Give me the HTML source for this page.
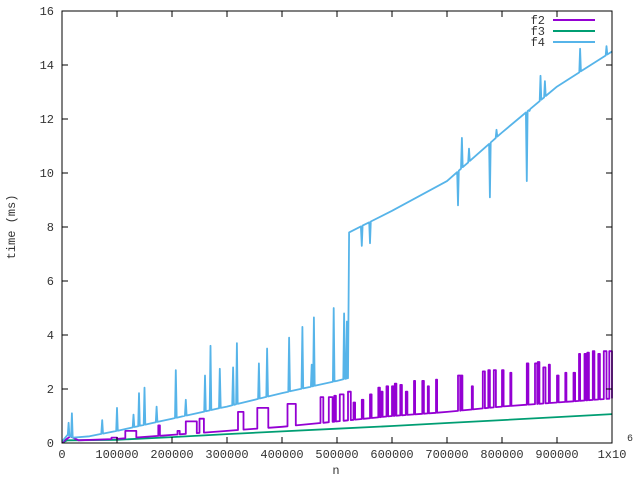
<!DOCTYPE html>
<html><head><meta charset="utf-8"><style>
body{margin:0;background:#fff}
svg text{font-family:"Liberation Mono",monospace;font-size:12px;fill:#333}
</style></head><body>
<svg id="chart" width="640" height="480" xmlns="http://www.w3.org/2000/svg">
<g id="grid"></g><g id="series"></g>
<rect x="62" y="11" width="550" height="432" fill="none" stroke="#000" stroke-width="1"/>
<g id="axes"></g>
<text transform="translate(15,227) rotate(-90)" text-anchor="middle">time (ms)</text>
<text x="336" y="474" text-anchor="middle">n</text>
<g>
<text x="545" y="24" text-anchor="end">f2</text>
<line x1="553" y1="20" x2="595" y2="20" stroke="#9400d3" stroke-width="2"/>
<text x="545" y="35" text-anchor="end">f3</text>
<line x1="553" y1="31" x2="595" y2="31" stroke="#009e73" stroke-width="2"/>
<text x="545" y="46" text-anchor="end">f4</text>
<line x1="553" y1="42" x2="595" y2="42" stroke="#56b4e9" stroke-width="2"/>
</g>
</svg>
<script>
const xTicks=[0,100000,200000,300000,400000,500000,600000,700000,800000,900000];
const yTicks=[0,2,4,6,8,10,12,14,16];
const f3BaseN=[0,10000,100000,200000,300000,400000,500000,600000,700000,800000,900000,1000000];
const f3BaseV=[0.02,0.1,0.12,0.22,0.33,0.43,0.53,0.63,0.74,0.85,0.96,1.07];
const f2BaseN=[0,15000,30000,100000,200000,300000,400000,500000,600000,700000,800000,900000,1000000];
const f2BaseV=[0.02,0.25,0.1,0.15,0.3,0.45,0.6,0.8,1.0,1.15,1.35,1.5,1.65];
const f2PlatStart=[90000,115000,175000,210000,225000,250000,320000,355000,410000,470000,485000,495000,505000,520000,530000,545000,560000,575000,580000,590000,600000,605000,615000,625000,640000,655000,665000,680000,720000,725000,745000,765000,775000,785000,800000,815000,845000,860000,865000,875000,885000,900000,915000,930000,940000,950000,955000,965000,975000,985000,995000];
const f2PlatEnd=[100000,135000,178000,214000,245000,258000,330000,375000,425000,475000,492000,498000,512000,525000,533000,548000,563000,578000,583000,593000,603000,608000,618000,628000,642000,658000,667000,682000,724000,728000,747000,769000,778000,789000,803000,817000,848000,864000,868000,879000,887000,903000,917000,933000,942000,953000,958000,968000,978000,990000,1000000];
const f2PlatV=[0.2,0.45,0.65,0.45,0.8,0.9,1.15,1.3,1.45,1.7,1.7,1.75,1.8,1.9,1.5,1.6,1.8,2.05,1.9,2.1,2.1,2.2,2.15,1.9,2.3,2.3,2.1,2.35,2.5,2.5,2.1,2.65,2.7,2.7,2.7,2.6,2.95,2.95,3.0,2.8,2.9,2.5,2.6,2.6,3.3,3.3,3.35,3.4,3.3,3.4,3.4];
const f4BaseN=[0,10000,20000,50000,100000,200000,300000,400000,500000,520000,522000,600000,700000,800000,900000,1000000];
const f4BaseV=[0.05,0.3,0.2,0.25,0.45,0.9,1.35,1.85,2.3,2.4,7.8,8.6,9.7,11.5,13.2,14.5];
const f4SpikeN=[12000,18000,73000,100000,130000,140000,150000,172000,207000,225000,260000,270000,287000,311000,318000,358000,373000,413000,437000,454000,458000,494000,513000,518000,545000,560000,720000,727000,740000,778000,790000,845000,850000,870000,878000,942000,990000];
const f4SpikeV=[0.75,1.1,0.85,1.3,1.05,1.85,2.05,1.35,2.7,1.6,2.5,3.6,2.75,2.8,3.7,2.95,3.5,3.9,4.3,2.9,4.65,5.0,4.8,4.5,7.3,7.4,8.8,11.3,10.9,9.1,11.6,9.7,12.3,13.6,13.4,14.6,14.7];

const L=62,R=612,T=11,B=443;
const sx=n=>L+(R-L)*n/1000000;
const sy=v=>B-(B-T)*v/16;
const NS='http://www.w3.org/2000/svg';
function interp(ns,vs,n){for(let i=1;i<ns.length;i++){if(n<=ns[i]){const t=(n-ns[i-1])/(ns[i]-ns[i-1]);return vs[i-1]+t*(vs[i]-vs[i-1]);}}return vs[vs.length-1];}
function path(pts,color,name){const p=document.createElementNS(NS,'path');


p.setAttribute('d','M'+pts.map(q=>sx(q[0]).toFixed(1)+','+sy(q[1]).toFixed(1)).join('L'));
p.setAttribute('fill','none');p.setAttribute('stroke',color);p.setAttribute('stroke-width','1.8');p.setAttribute('stroke-linejoin','round');
document.getElementById('series').appendChild(p);}
path(f3BaseN.map((n,i)=>[n,f3BaseV[i]]),'#009e73','series-f3');
{let pts=[];
const evts=[];f2BaseN.forEach(n=>evts.push(n));
for(let i=0;i<f2PlatStart.length;i++){evts.push(f2PlatStart[i],f2PlatEnd[i]);}
const uniq=[...new Set(evts)].sort((a,b)=>a-b);
for(const n of uniq){const b=interp(f2BaseN,f2BaseV,n);
let inside=-1;for(let i=0;i<f2PlatStart.length;i++){if(n>=f2PlatStart[i]&&n<f2PlatEnd[i])inside=i;}
let endsHere=f2PlatEnd.indexOf(n);let startsHere=f2PlatStart.indexOf(n);
if(startsHere>=0){pts.push([n,b]);pts.push([n,f2PlatV[startsHere]]);}
else if(endsHere>=0){pts.push([n,f2PlatV[endsHere]]);pts.push([n,b]);}
else if(inside>=0){pts.push([n,f2PlatV[inside]]);}
else pts.push([n,b]);}
path(pts,'#9400d3','series-f2');}
{const all=[...new Set([...f4BaseN,...f4SpikeN])].sort((a,b)=>a-b);let pts=[];
for(const n of all){const b=interp(f4BaseN,f4BaseV,n);const k=f4SpikeN.indexOf(n);
if(k>=0){pts.push([n-1500,interp(f4BaseN,f4BaseV,n-1500)]);pts.push([n,f4SpikeV[k]]);pts.push([n+1500,interp(f4BaseN,f4BaseV,n+1500)]);}
else pts.push([n,b]);}
path(pts,'#56b4e9','series-f4');}
const ax=document.getElementById('axes');
function el(tag,attrs,txt){const e=document.createElementNS(NS,tag);for(const k in attrs)e.setAttribute(k,attrs[k]);if(txt!==undefined)e.textContent=txt;ax.appendChild(e);return e;}
yTicks.forEach(v=>{const y=sy(v);
const t1=el('line',{x1:L,y1:y,x2:L+6,y2:y,stroke:'#000'});


el('line',{x1:R-6,y1:y,x2:R,y2:y,stroke:'#000'});
const lb=el('text',{x:L-8,y:y+4,'text-anchor':'end'},String(v));

});
xTicks.forEach(n=>{const x=sx(n);
const t=el('line',{x1:x,y1:B,x2:x,y2:B-6,stroke:'#000'});


el('line',{x1:x,y1:T,x2:x,y2:T+6,stroke:'#000'});
const lb=el('text',{x:x,y:B+15,'text-anchor':'middle'},String(n));

});
const last=el('text',{x:R,y:B+15,'text-anchor':'middle'},'1x10');


const sup=el('text',{x:R+15,y:B-2,style:'font-size:10px'},'6');


</script>
</body></html>
